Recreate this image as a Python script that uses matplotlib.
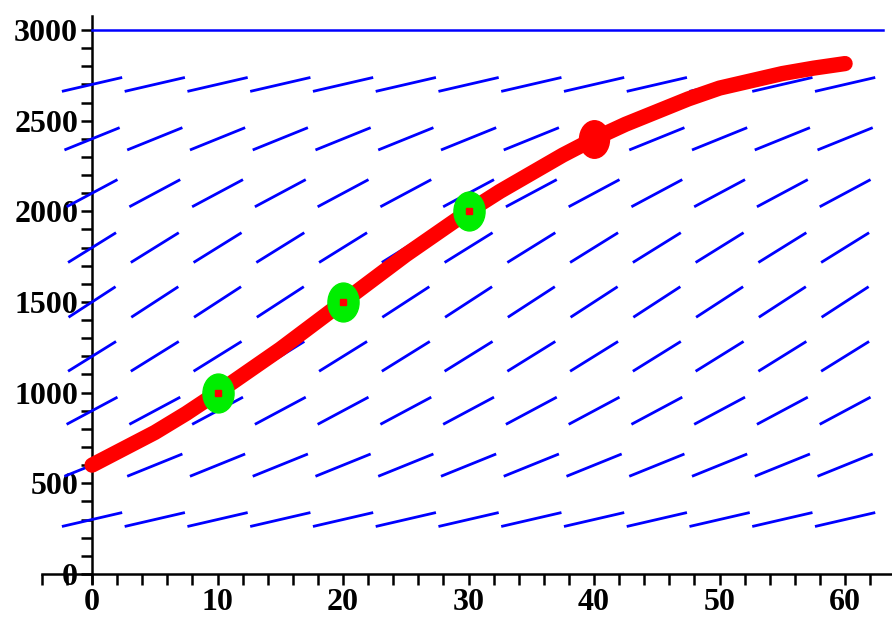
"""Logistic growth direction field with a solution curve and data points."""

import numpy as np
import matplotlib
matplotlib.use("Agg")
import matplotlib.pyplot as plt
from matplotlib.collections import LineCollection
from matplotlib.markers import MarkerStyle
from matplotlib.transforms import Affine2D

# direction field grid
field_t = [0, 5, 10, 15, 20, 25, 30, 35, 40, 45, 50, 55, 60]
field_p = [300, 600, 900, 1200, 1500, 1800, 2100, 2400, 2700]
field_slope = [16, 28, 37, 43, 45, 43, 37, 28, 16]  # dP/dt per row

# solution curve
curve_t = [0, 2.5, 5, 7.5, 10, 12.5, 15, 17.5, 20, 22.5, 25, 27.5, 30,
           32.5, 35, 37.5, 40, 42.5, 45, 47.5, 50, 52.5, 55, 57.5, 60]
curve_p = [600, 690, 780, 885, 1000, 1120, 1240, 1370, 1500, 1630, 1760, 1880, 2000,
           2110, 2210, 2310, 2400, 2480, 2550, 2620, 2680, 2720, 2760, 2790, 2815]

# data points
green_t = [10, 20, 30]
green_p = [1000, 1500, 2000]
red_t = [40]
red_p = [2400]

carrying = 3000
line_end = 63

BLUE = "#0000ff"
RED = "#ff0000"
GREEN = "#00ee00"

fig = plt.figure(figsize=(8.92, 6.19), dpi=100)
ax = fig.add_axes([0.0469, 0.0582, 0.954, 0.9167])
ax.set_xlim(-4, 63.8)
ax.set_ylim(-50, 3080)

# direction field segments, normalised relative to the plot ranges
X, Y, L = 60.0, 3000.0, 0.084
segs = []
for p, s in zip(field_p, field_slope):
    u, v = 1.0 / X, s / Y
    n = np.hypot(u, v)
    dx = u / n * L * X / 2
    dy = v / n * L * Y / 2
    for t in field_t:
        segs.append([(t - dx, p - dy), (t + dx, p + dy)])
ax.add_collection(LineCollection(segs, colors=BLUE, linewidths=2, zorder=2))

# equilibrium line
ax.plot([0, line_end], [carrying, carrying], color=BLUE, lw=1.8, zorder=2)

# solution curve
ax.plot(curve_t, curve_p, color=RED, lw=11, solid_capstyle="round",
        solid_joinstyle="round", zorder=3)

ell = MarkerStyle("o", transform=Affine2D().scale(0.8, 1.0))
ax.plot(green_t, green_p, ls="none", marker=ell, ms=28, mfc=GREEN, mec=GREEN, zorder=4)
ax.plot(green_t, green_p, ls="none", marker="s", ms=5, mfc=RED, mec=RED, zorder=5)
ax.plot(red_t, red_p, ls="none", marker=ell, ms=27, mfc=RED, mec=RED, zorder=4)

# axes through the origin
for side in ("top", "right"):
    ax.spines[side].set_visible(False)
ax.spines["left"].set_position(("data", 0))
ax.spines["bottom"].set_position(("data", 0))
for side in ("left", "bottom"):
    ax.spines[side].set_linewidth(1.8)
    ax.spines[side].set_zorder(1)

ax.set_xticks(range(0, 61, 10))
ax.set_xticks(np.arange(-4, 64, 2), minor=True)
ax.set_yticks(range(0, 3001, 500))
ax.set_yticks(np.arange(0, 3001, 100), minor=True)

ax.tick_params(which="both", direction="out", length=8, width=1.8, color="black")
ax.tick_params(axis="x", pad=2)
ax.tick_params(axis="y", pad=2)

for lab in ax.get_xticklabels() + ax.get_yticklabels():
    lab.set_fontfamily("Liberation Serif")
    lab.set_fontweight("bold")
    lab.set_fontsize(23)

fig.savefig("out.png", dpi=100)
